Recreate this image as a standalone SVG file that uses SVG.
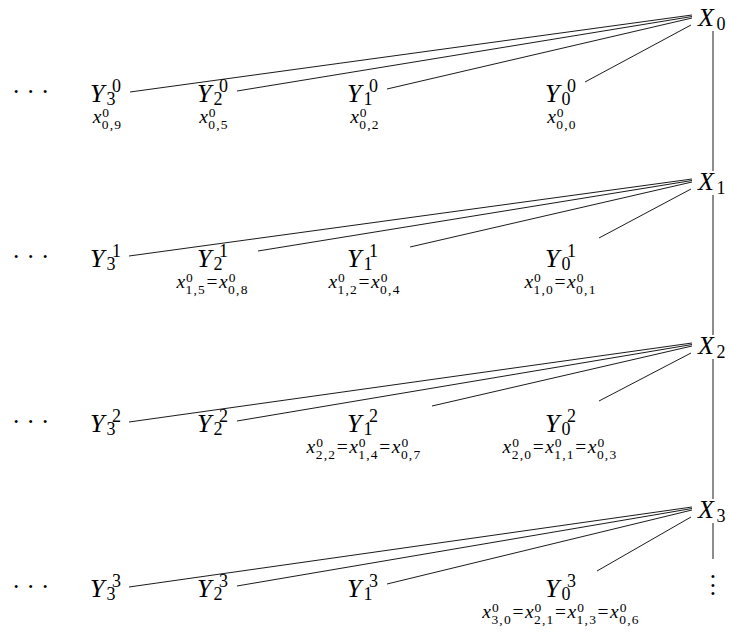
<svg xmlns="http://www.w3.org/2000/svg" width="729" height="638" viewBox="0 0 729 638">
<style>
text { font-family: 'Liberation Serif', 'DejaVu Serif', serif; fill: #000; }
.m { font-style: italic; font-size: 26px; }
.d { font-size: 18px; }
.dots { font-size: 25px; }
.lb { font-size: 19.5px; }
.li { font-style: italic; }
.ls { font-size: 13.5px; letter-spacing: 1.2px; }
#connectors line { stroke: #000; stroke-width: 0.9; fill: none; }
</style>
<rect x="0" y="0" width="729" height="638" fill="#fff"/>

<g id="connectors">
  <line x1="130" y1="92" x2="692" y2="15"/>
  <line x1="237" y1="91" x2="692" y2="16.5"/>
  <line x1="387" y1="89" x2="692" y2="18"/>
  <line x1="585" y1="82" x2="691" y2="25"/>
  <line x1="129" y1="256" x2="692" y2="179"/>
  <line x1="258" y1="251" x2="692" y2="180.5"/>
  <line x1="410" y1="247" x2="692" y2="182"/>
  <line x1="599" y1="238" x2="691" y2="189"/>
  <line x1="129" y1="422" x2="692" y2="343"/>
  <line x1="237" y1="421" x2="692" y2="344.5"/>
  <line x1="432" y1="406" x2="692" y2="346"/>
  <line x1="599" y1="401" x2="691" y2="353"/>
  <line x1="129" y1="587" x2="692" y2="507"/>
  <line x1="237" y1="586" x2="692" y2="508.5"/>
  <line x1="387" y1="584" x2="692" y2="510"/>
  <line x1="597" y1="571" x2="691" y2="517"/>
  <line x1="713" y1="31" x2="713" y2="171"/>
  <line x1="713" y1="195" x2="713" y2="335"/>
  <line x1="713" y1="359" x2="713" y2="499"/>
  <line x1="713" y1="523" x2="713" y2="559"/>
</g>

<!-- X nodes -->
<g id="X0"><text class="m" x="698" y="26">X</text><text class="d" x="716.5" y="30">0</text></g>
<g id="X1"><text class="m" x="698" y="190">X</text><text class="d" x="716.5" y="194">1</text></g>
<g id="X2"><text class="m" x="698" y="354">X</text><text class="d" x="716.5" y="358">2</text></g>
<g id="X3"><text class="m" x="698" y="518">X</text><text class="d" x="716.5" y="522">3</text></g>
<g id="vdots"><text class="dots" text-anchor="middle"><tspan x="713" y="585">·</tspan><tspan x="713" y="593.7">·</tspan><tspan x="713" y="602.4">·</tspan></text></g>

<!-- row 0 -->
<g id="dots0"><text class="dots" x="11.9" y="100.4">· · ·</text></g>
<g id="Y3_0"><text class="m" x="90" y="102">Y</text><text class="d" x="106.5" y="105">3</text><text class="d" x="112" y="92">0</text>
  <text class="lb" x="107.5" y="123" text-anchor="middle"><tspan class="li">x</tspan><tspan class="ls" dx="1" dy="-6">0</tspan><tspan class="ls" dx="-8.5" dy="12">0,9</tspan></text></g>
<g id="Y2_0"><text class="m" x="197" y="102">Y</text><text class="d" x="213.5" y="105">2</text><text class="d" x="219" y="92">0</text>
  <text class="lb" x="214" y="123" text-anchor="middle"><tspan class="li">x</tspan><tspan class="ls" dx="1" dy="-6">0</tspan><tspan class="ls" dx="-8.5" dy="12">0,5</tspan></text></g>
<g id="Y1_0"><text class="m" x="347" y="102">Y</text><text class="d" x="363.5" y="105">1</text><text class="d" x="369" y="92">0</text>
  <text class="lb" x="365" y="123" text-anchor="middle"><tspan class="li">x</tspan><tspan class="ls" dx="1" dy="-6">0</tspan><tspan class="ls" dx="-8.5" dy="12">0,2</tspan></text></g>
<g id="Y0_0"><text class="m" x="545" y="102">Y</text><text class="d" x="561.5" y="105">0</text><text class="d" x="567" y="92">0</text>
  <text class="lb" x="562" y="123" text-anchor="middle"><tspan class="li">x</tspan><tspan class="ls" dx="1" dy="-6">0</tspan><tspan class="ls" dx="-8.5" dy="12">0,0</tspan></text></g>

<!-- row 1 -->
<g id="dots1"><text class="dots" x="11.9" y="265.4">· · ·</text></g>
<g id="Y3_1"><text class="m" x="90" y="267">Y</text><text class="d" x="106.5" y="270">3</text><text class="d" x="112" y="257">1</text></g>
<g id="Y2_1"><text class="m" x="197" y="267">Y</text><text class="d" x="213.5" y="270">2</text><text class="d" x="219" y="257">1</text>
  <text class="lb" x="212.5" y="288" text-anchor="middle"><tspan class="li">x</tspan><tspan class="ls" dx="1" dy="-6">0</tspan><tspan class="ls" dx="-8.5" dy="12">1,5</tspan><tspan dx="0.5" dy="-6">=</tspan><tspan class="li" dx="1.5">x</tspan><tspan class="ls" dx="1" dy="-6">0</tspan><tspan class="ls" dx="-8.5" dy="12">0,8</tspan></text></g>
<g id="Y1_1"><text class="m" x="347" y="267">Y</text><text class="d" x="363.5" y="270">1</text><text class="d" x="369" y="257">1</text>
  <text class="lb" x="364.5" y="288" text-anchor="middle"><tspan class="li">x</tspan><tspan class="ls" dx="1" dy="-6">0</tspan><tspan class="ls" dx="-8.5" dy="12">1,2</tspan><tspan dx="0.5" dy="-6">=</tspan><tspan class="li" dx="1.5">x</tspan><tspan class="ls" dx="1" dy="-6">0</tspan><tspan class="ls" dx="-8.5" dy="12">0,4</tspan></text></g>
<g id="Y0_1"><text class="m" x="545" y="267">Y</text><text class="d" x="561.5" y="270">0</text><text class="d" x="567" y="257">1</text>
  <text class="lb" x="560.5" y="288" text-anchor="middle"><tspan class="li">x</tspan><tspan class="ls" dx="1" dy="-6">0</tspan><tspan class="ls" dx="-8.5" dy="12">1,0</tspan><tspan dx="0.5" dy="-6">=</tspan><tspan class="li" dx="1.5">x</tspan><tspan class="ls" dx="1" dy="-6">0</tspan><tspan class="ls" dx="-8.5" dy="12">0,1</tspan></text></g>

<!-- row 2 -->
<g id="dots2"><text class="dots" x="11.9" y="430.4">· · ·</text></g>
<g id="Y3_2"><text class="m" x="90" y="432">Y</text><text class="d" x="106.5" y="435">3</text><text class="d" x="112" y="422">2</text></g>
<g id="Y2_2"><text class="m" x="197" y="432">Y</text><text class="d" x="213.5" y="435">2</text><text class="d" x="219" y="422">2</text></g>
<g id="Y1_2"><text class="m" x="347" y="432">Y</text><text class="d" x="363.5" y="435">1</text><text class="d" x="369" y="422">2</text>
  <text class="lb" x="364" y="453" text-anchor="middle"><tspan class="li">x</tspan><tspan class="ls" dx="1" dy="-6">0</tspan><tspan class="ls" dx="-8.5" dy="12">2,2</tspan><tspan dx="0.5" dy="-6">=</tspan><tspan class="li" dx="1.5">x</tspan><tspan class="ls" dx="1" dy="-6">0</tspan><tspan class="ls" dx="-8.5" dy="12">1,4</tspan><tspan dx="0.5" dy="-6">=</tspan><tspan class="li" dx="1.5">x</tspan><tspan class="ls" dx="1" dy="-6">0</tspan><tspan class="ls" dx="-8.5" dy="12">0,7</tspan></text></g>
<g id="Y0_2"><text class="m" x="545" y="432">Y</text><text class="d" x="561.5" y="435">0</text><text class="d" x="567" y="422">2</text>
  <text class="lb" x="560" y="453" text-anchor="middle"><tspan class="li">x</tspan><tspan class="ls" dx="1" dy="-6">0</tspan><tspan class="ls" dx="-8.5" dy="12">2,0</tspan><tspan dx="0.5" dy="-6">=</tspan><tspan class="li" dx="1.5">x</tspan><tspan class="ls" dx="1" dy="-6">0</tspan><tspan class="ls" dx="-8.5" dy="12">1,1</tspan><tspan dx="0.5" dy="-6">=</tspan><tspan class="li" dx="1.5">x</tspan><tspan class="ls" dx="1" dy="-6">0</tspan><tspan class="ls" dx="-8.5" dy="12">0,3</tspan></text></g>

<!-- row 3 -->
<g id="dots3"><text class="dots" x="11.9" y="595.4">· · ·</text></g>
<g id="Y3_3"><text class="m" x="90" y="597">Y</text><text class="d" x="106.5" y="600">3</text><text class="d" x="112" y="587">3</text></g>
<g id="Y2_3"><text class="m" x="197" y="597">Y</text><text class="d" x="213.5" y="600">2</text><text class="d" x="219" y="587">3</text></g>
<g id="Y1_3"><text class="m" x="347" y="597">Y</text><text class="d" x="363.5" y="600">1</text><text class="d" x="369" y="587">3</text></g>
<g id="Y0_3"><text class="m" x="545" y="597">Y</text><text class="d" x="561.5" y="600">0</text><text class="d" x="567" y="587">3</text>
  <text class="lb" x="561" y="618" text-anchor="middle"><tspan class="li">x</tspan><tspan class="ls" dx="1" dy="-6">0</tspan><tspan class="ls" dx="-8.5" dy="12">3,0</tspan><tspan dx="0.5" dy="-6">=</tspan><tspan class="li" dx="1.5">x</tspan><tspan class="ls" dx="1" dy="-6">0</tspan><tspan class="ls" dx="-8.5" dy="12">2,1</tspan><tspan dx="0.5" dy="-6">=</tspan><tspan class="li" dx="1.5">x</tspan><tspan class="ls" dx="1" dy="-6">0</tspan><tspan class="ls" dx="-8.5" dy="12">1,3</tspan><tspan dx="0.5" dy="-6">=</tspan><tspan class="li" dx="1.5">x</tspan><tspan class="ls" dx="1" dy="-6">0</tspan><tspan class="ls" dx="-8.5" dy="12">0,6</tspan></text></g>
</svg>
